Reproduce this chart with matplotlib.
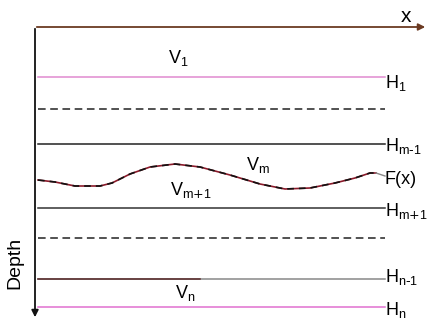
import matplotlib
matplotlib.use("Agg")
import matplotlib.pyplot as plt

plt.rcParams["font.family"] = ["Liberation Sans", "DejaVu Sans"]
plt.rcParams["mathtext.default"] = "regular"

# layer boundaries: depth (px), colour, style, label
boundary_depth = [77, 109, 144, 208, 238, 279, 307]
boundary_color = ["#e08ad0", "#222222", "#222222", "#333333", "#222222", "#888888", "#e070d0"]
boundary_style = ["-", "--", "-", "-", "--", "-", "-"]
boundary_label = ["$H_1$", "", r"$H_{m\text{-}1}$", r"$H_{m\text{+}1}$", "", r"$H_{n\text{-}1}$", "$H_n$"]
label_y = [83, 0, 146, 211, 0, 277, 310]

# interface F(x)
fx_x = [38, 55, 75, 100, 112, 130, 150, 175, 200, 230, 260, 285, 310, 335, 355, 370, 376]
fx_depth = [180, 182, 186, 186, 183, 174, 167, 164, 167, 175, 184, 189, 188, 183, 178, 173, 173]

# velocity labels
vel_text = ["$V_1$", "$V_m$", r"$V_{m\text{+}1}$", "$V_n$"]
vel_x = [168, 246, 170, 175]
vel_y = [58, 165, 190, 293]

fig = plt.figure(figsize=(4.35, 3.26), dpi=100)
ax = fig.add_axes([0, 0, 1, 1])
ax.set_xlim(0, 435)
ax.set_ylim(326, 0)
ax.axis("off")

# axes arrows
ax.annotate("", xy=(428, 27), xytext=(34, 27),
            arrowprops=dict(arrowstyle="-|>", color="#6b3a22", lw=1.3, mutation_scale=10))
ax.annotate("", xy=(35, 320), xytext=(35, 26),
            arrowprops=dict(arrowstyle="-|>", color="#111111", lw=1.3, mutation_scale=10))
ax.text(406, 17, "x", fontsize=15, ha="center", va="center")
ax.text(15, 263, "Depth", fontsize=14, rotation=90, ha="center", va="center")

for d, c, s, lab, ly in zip(boundary_depth, boundary_color, boundary_style, boundary_label, label_y):
    ax.plot([38, 385], [d, d], color=c, ls=s, lw=1.1, dashes=(5, 3) if s == "--" else (None, None))
    if lab:
        ax.text(385, ly, lab, fontsize=13, ha="left", va="center")

# left half of H_{n-1} is darker
ax.plot([38, 200], [boundary_depth[5], boundary_depth[5]], color="#5a2a2a", lw=1.1)

ax.plot(fx_x, fx_depth, color="#8b1a2a", lw=1.2)
ax.plot(fx_x, fx_depth, color="#111111", lw=1.2, ls=(0, (4, 3)))
ax.plot([376, 385], [173, 176], color="#888888", lw=1.0)
ax.text(385, 180, "F(x)", fontsize=13, ha="left", va="center")

for t, x, y in zip(vel_text, vel_x, vel_y):
    ax.text(x, y, t, fontsize=13, ha="left", va="center")

fig.savefig("out.png", dpi=100)
